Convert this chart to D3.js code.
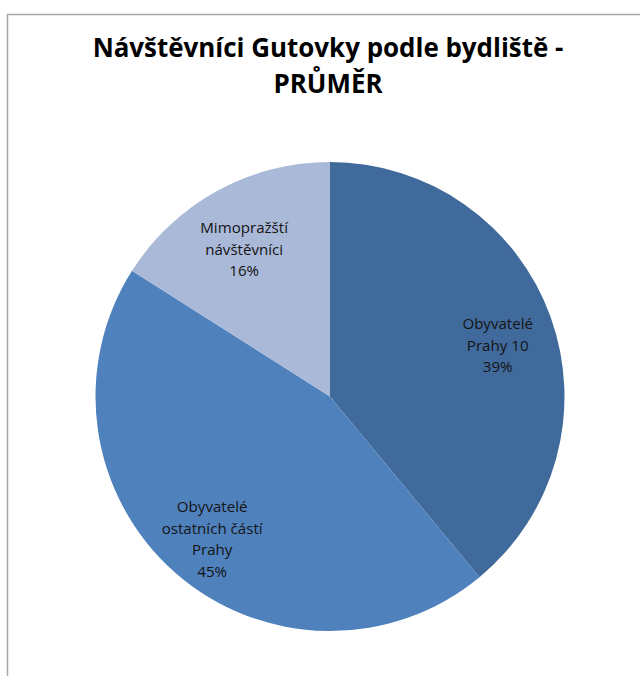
<!DOCTYPE html>
<html>
<head>
<meta charset="utf-8">
<script src="https://cdn.jsdelivr.net/npm/d3@7"></script>
<style>
  body { margin: 0; background: #fff; }
  svg { display: block; }
</style>
</head>
<body>
<svg id="chart"></svg>
<script>
var categories = ["Obyvatelé Prahy 10", "Obyvatelé ostatních částí Prahy", "Mimopražští návštěvníci"];
var labelLines = [["Obyvatelé", "Prahy 10"], ["Obyvatelé", "ostatních částí", "Prahy"], ["Mimopražští", "návštěvníci"]];
var values = [39, 45, 16];
var colors = ["#406A9B", "#4F81BD", "#AAB9D8"];
var titleLines = ["Návštěvníci Gutovky podle bydliště -", "PRŮMĚR"];

var width = 640, height = 676;
var svg = d3.select("#chart").attr("width", width).attr("height", height);

// chart frame (cropped at right and bottom)
svg.append("path")
    .attr("d", "M7.5,676 V14.5 H640")
    .attr("fill", "none")
    .attr("stroke", "#a6a6a6")
    .attr("stroke-width", 1.5);

var font = "'Open Sans', sans-serif";

var title = svg.append("g").selectAll("text")
    .data(titleLines)
    .enter().append("text")
    .attr("x", 328)
    .attr("y", function(d, i) { return 57 + i * 36; })
    .attr("text-anchor", "middle")
    .attr("font-family", font)
    .attr("font-weight", "bold")
    .attr("font-size", "24px")
    .attr("fill", "#000")
    .text(function(d) { return d; });

// size the title so its first line is as wide as in the original
var w0 = title.nodes()[0].getComputedTextLength();
title.attr("font-size", (24 * 471 / w0) + "px");

var cx = 330, cy = 396.5, r = 234.5;

var pie = d3.pie().sort(null).value(function(d) { return d; });
var arcs = pie(values);
var arc = d3.arc().innerRadius(0).outerRadius(r);
var labelArc = d3.arc().innerRadius(r * 0.76).outerRadius(r * 0.76);

var g = svg.append("g").attr("transform", "translate(" + cx + "," + cy + ")");

g.selectAll("path.slice")
    .data(arcs)
    .enter().append("path")
    .attr("class", "slice")
    .attr("d", arc)
    .attr("fill", function(d, i) { return colors[i]; });

var labels = g.selectAll("text.label")
    .data(arcs)
    .enter().append("text")
    .attr("class", "label")
    .attr("text-anchor", "middle")
    .attr("font-family", font)
    .attr("font-size", "14px")
    .attr("fill", "#141414")
    .attr("transform", function(d) {
        var c = labelArc.centroid(d);
        return "translate(" + c[0] + "," + c[1] + ")";
    });

var lh = 21.5;
labels.each(function(d, i) {
    var lines = labelLines[i].concat([values[i] + "%"]);
    var t = d3.select(this);
    var y0 = -((lines.length - 1) * lh) / 2 + 14.5;
    lines.forEach(function(line, j) {
        t.append("tspan").attr("x", 0).attr("y", y0 + j * lh).text(line);
    });
});

// fit label size to the original width of "ostatních částí"
var probe = labels.filter(function(d, i) { return i === 1; }).selectAll("tspan").nodes()[1];
var lw = probe.getComputedTextLength();
labels.attr("font-size", (14 * 101 / lw) + "px");
</script>
</body>
</html>
